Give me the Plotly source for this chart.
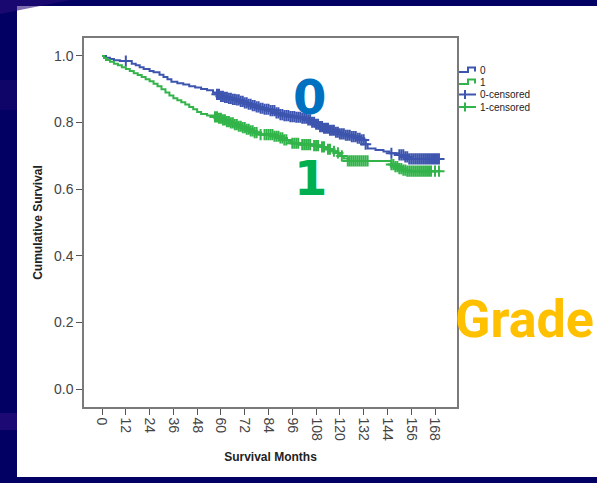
import numpy as np
import plotly.graph_objects as go

# Kaplan-Meier estimates by grade group: event times (months) and survival after each step
grade0_times = [2, 4, 6, 9, 15, 17, 19, 21, 24, 26, 29, 31, 33, 35, 38, 41, 44, 47, 50, 53,
                56, 58, 60, 62, 64, 66, 68, 70, 72, 74, 76, 78, 80, 82, 85, 88, 90, 92, 95, 98,
                101, 104, 106, 108, 110, 112, 115, 118, 120, 123, 126, 129, 131, 133, 134, 138,
                142, 145, 150, 153, 155]
grade0_surv = [0.995, 0.991, 0.987, 0.985, 0.977, 0.972, 0.966, 0.961, 0.955, 0.951, 0.944,
               0.937, 0.930, 0.923, 0.918, 0.914, 0.909, 0.905, 0.901, 0.897, 0.890, 0.885,
               0.879, 0.876, 0.873, 0.870, 0.868, 0.864, 0.859, 0.855, 0.851, 0.847, 0.843,
               0.840, 0.836, 0.829, 0.824, 0.821, 0.818, 0.816, 0.813, 0.808, 0.801, 0.795,
               0.788, 0.783, 0.777, 0.771, 0.766, 0.762, 0.758, 0.753, 0.748, 0.735, 0.722,
               0.718, 0.713, 0.708, 0.703, 0.697, 0.691]
grade0_censored = [12, 58, 59, 60, 61, 62, 63, 64, 65, 66, 67, 68, 69, 70, 71, 72, 73, 74, 75,
                   76, 77, 78, 79, 80, 81, 82, 83, 84, 85, 86, 87, 88, 89, 90, 91, 92, 93, 94,
                   95, 96, 97, 98, 99, 100, 101, 102, 103, 104, 105, 106, 107, 108, 109, 110,
                   111, 112, 113, 114, 115, 116, 117, 118, 119, 120, 121, 122, 123, 124, 125,
                   126, 127, 128, 129, 130, 131, 132, 133, 146, 150, 151, 152, 153, 154, 155,
                   156, 157, 158, 159, 160, 161, 162, 163, 164, 165, 166, 167, 168, 169, 170]

grade1_times = [1, 2, 4, 6, 8, 10, 12, 14, 16, 18, 20, 22, 24, 26, 28, 30, 32, 34, 36, 38, 40,
                42, 44, 46, 48, 50, 53, 56, 59, 61, 63, 65, 67, 69, 71, 73, 75, 77, 79, 87, 90,
                92, 94, 96, 100, 106, 110, 113, 116, 118, 120, 122, 124, 146, 148, 150, 152, 154]
grade1_surv = [0.994, 0.988, 0.983, 0.977, 0.972, 0.966, 0.961, 0.955, 0.948, 0.943, 0.937,
               0.930, 0.924, 0.917, 0.909, 0.900, 0.890, 0.881, 0.873, 0.867, 0.861, 0.854,
               0.847, 0.840, 0.832, 0.826, 0.821, 0.817, 0.813, 0.808, 0.803, 0.799, 0.794,
               0.789, 0.785, 0.780, 0.775, 0.770, 0.764, 0.759, 0.754, 0.748, 0.743, 0.738,
               0.734, 0.731, 0.727, 0.720, 0.714, 0.709, 0.700, 0.692, 0.685, 0.674, 0.668,
               0.662, 0.657, 0.654]
grade1_censored = [57, 58, 59, 60, 61, 62, 63, 64, 65, 66, 67, 68, 69, 70, 71, 72, 73, 74, 75,
                   76, 77, 78, 80, 82, 83, 84, 85, 86, 87, 88, 89, 90, 91, 92, 93, 96, 97, 98,
                   99, 101, 102, 103, 104, 105, 107, 108, 109, 111, 112, 114, 115, 117, 119,
                   121, 124, 125, 126, 127, 128, 129, 130, 131, 132, 133, 134, 146, 147, 148,
                   149, 150, 151, 152, 153, 154, 155, 156, 157, 158, 159, 160, 161, 162, 163,
                   164, 165, 166, 168, 170]

x_ticks = list(range(0, 169, 12))
y_ticks = [0.0, 0.2, 0.4, 0.6, 0.8, 1.0]

BLUE = "#3d55ae"
GREEN = "#33b44a"
NAVY = "#020063"

W, H = 597, 483
L, R, T, B = 84, 140, 38, 76
PW, PH = W - L - R, H - T - B


def px(x):
    """Horizontal pixel position -> paper fraction."""
    return (x - L) / PW


def py(y):
    """Vertical pixel position (from top) -> paper fraction."""
    return (T + PH - y) / PH


def step_curve(times, surv, end):
    xs = [0] + list(times) + [end]
    ys = [1.0] + list(surv) + [surv[-1]]
    return xs, ys


def surv_at(times, surv, t):
    idx = np.searchsorted(np.asarray(times), np.asarray(t), side="right")
    vals = np.concatenate([[1.0], np.asarray(surv)])
    return vals[idx]


fig = go.Figure()

for times, surv, cens, color in [
    (grade0_times, grade0_surv, grade0_censored, BLUE),
    (grade1_times, grade1_surv, grade1_censored, GREEN),
]:
    xs, ys = step_curve(times, surv, max(cens))
    fig.add_trace(go.Scatter(x=xs, y=ys, mode="lines", line=dict(color=color, width=2, shape="hv"),
                             showlegend=False, hoverinfo="skip"))
    fig.add_trace(go.Scatter(x=cens, y=surv_at(times, surv, cens), mode="markers",
                             marker=dict(symbol="cross-thin", size=8,
                                         line=dict(color=color, width=2)),
                             showlegend=False, hoverinfo="skip"))

shapes = [
    # white slide panel
    dict(type="rect", xref="paper", yref="paper", x0=px(17), x1=px(605), y0=py(477), y1=py(6),
         fillcolor="white", line=dict(width=0), layer="below"),
    # faint purple streaks in the backdrop
    dict(type="path", xref="paper", yref="paper",
         path=f"M {px(0)},{py(0)} L {px(70)},{py(0)} L {px(40)},{py(6)} L {px(0)},{py(14)} Z",
         fillcolor="#2a0d7a", opacity=0.6, line=dict(width=0), layer="below"),
    dict(type="rect", xref="paper", yref="paper", x0=px(0), x1=px(17), y0=py(430), y1=py(413),
         fillcolor="#2a0d7a", opacity=0.7, line=dict(width=0), layer="below"),
    dict(type="rect", xref="paper", yref="paper", x0=px(0), x1=px(17), y0=py(110), y1=py(80),
         fillcolor="#1c0a70", opacity=0.5, line=dict(width=0), layer="below"),
]

annotations = []

# legend swatches: step icons for the curves, crosses for censored cases
legend_rows = [("0", BLUE, "step", 70), ("1", GREEN, "step", 82),
               ("0-censored", BLUE, "cross", 94.5), ("1-censored", GREEN, "cross", 107)]
for label, color, kind, yc in legend_rows:
    if kind == "step":
        path = (f"M {px(459)},{py(yc + 2)} L {px(468)},{py(yc + 2)} L {px(468)},{py(yc - 2.5)} "
                f"L {px(475)},{py(yc - 2.5)} L {px(475)},{py(yc + 1.5)}")
        shapes.append(dict(type="path", xref="paper", yref="paper", path=path,
                           line=dict(color=color, width=2)))
    else:
        shapes.append(dict(type="line", xref="paper", yref="paper", x0=px(459), x1=px(476),
                           y0=py(yc), y1=py(yc), line=dict(color=color, width=2)))
        shapes.append(dict(type="line", xref="paper", yref="paper", x0=px(465), x1=px(465),
                           y0=py(yc - 4.5), y1=py(yc + 4.5), line=dict(color=color, width=2)))
    annotations.append(dict(text=label, xref="paper", yref="paper", x=px(477.5), y=py(yc),
                            xanchor="left", yanchor="middle", showarrow=False,
                            font=dict(family="Liberation Sans, Arial", size=10, color="#222")))

# group labels on the curves
annotations.append(dict(text="<b>0</b>", x=104.5, y=0.877, showarrow=False,
                        font=dict(family="DejaVu Sans", size=48, color="#0070c0")))
annotations.append(dict(text="<b>1</b>", x=105, y=0.635, showarrow=False,
                        font=dict(family="DejaVu Sans", size=48, color="#00b050")))
annotations.append(dict(text="<b>Grade</b>", xref="paper", yref="paper", x=px(453), y=py(319),
                        xanchor="left", yanchor="middle", showarrow=False,
                        font=dict(family="Roboto", size=52, color="#ffc000")))

axis_font = dict(family="Liberation Sans, Arial", size=14, color="#444")
title_font = dict(family="Liberation Sans, Arial", size=12, color="#222")

fig.update_layout(
    width=W, height=H,
    margin=dict(l=L, r=R, t=T, b=B, pad=0),
    paper_bgcolor=NAVY, plot_bgcolor="white",
    shapes=shapes, annotations=annotations, showlegend=False,
    xaxis=dict(range=[-9.1, 179.1], tickvals=x_ticks, ticktext=[str(v) for v in x_ticks],
               tickangle=90, ticks="outside", ticklen=6, tickcolor="#555", tickfont=axis_font,
               showgrid=False, zeroline=False, showline=True, mirror=True,
               linecolor="#7a7a7a", linewidth=1.5,
               title=dict(text="<b>Survival Months</b>", font=title_font, standoff=12)),
    yaxis=dict(range=[-0.054, 1.054], tickvals=y_ticks, tickformat=".1f",
               ticks="outside", ticklen=6, tickcolor="#555", tickfont=axis_font,
               showgrid=False, zeroline=False, showline=True, mirror=True,
               linecolor="#7a7a7a", linewidth=1.5,
               title=dict(text="<b>Cumulative Survival</b>", font=title_font, standoff=9)),
)

fig.write_html("out.html")
